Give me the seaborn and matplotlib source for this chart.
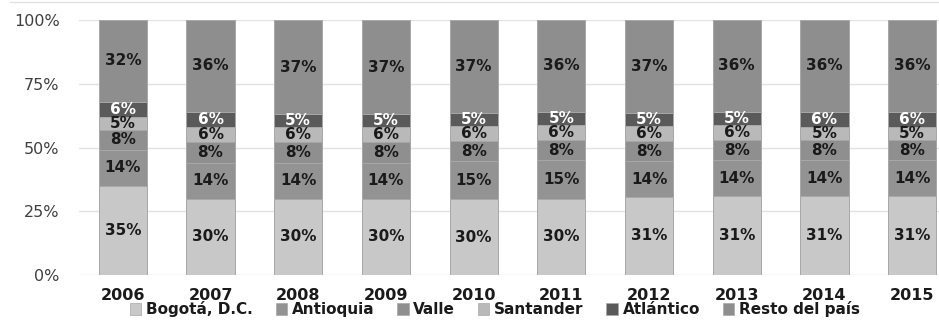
import numpy as np
import pandas as pd
import matplotlib
matplotlib.use("Agg")
import matplotlib.pyplot as plt
from matplotlib.patches import Patch
from matplotlib.lines import Line2D
import seaborn as sns

years = ["2006", "2007", "2008", "2009", "2010", "2011", "2012", "2013", "2014", "2015"]
regions = ["Bogotá, D.C.", "Antioquia", "Valle", "Santander", "Atlántico", "Resto del país"]

bogota = [35, 30, 30, 30, 30, 30, 31, 31, 31, 31]
antioquia = [14, 14, 14, 14, 15, 15, 14, 14, 14, 14]
valle = [8, 8, 8, 8, 8, 8, 8, 8, 8, 8]
santander = [5, 6, 6, 6, 6, 6, 6, 6, 5, 5]
atlantico = [6, 6, 5, 5, 5, 5, 5, 5, 6, 6]
resto = [32, 36, 37, 37, 37, 36, 37, 36, 36, 36]

series = [bogota, antioquia, valle, santander, atlantico, resto]
colors = ["#c8c8c8", "#939393", "#8f8f8f", "#b9b9b9", "#5a5a5a", "#8e8e8e"]
label_colors = ["#1a1a1a", "#1a1a1a", "#1a1a1a", "#1a1a1a", "#ffffff", "#1a1a1a"]

sns.set_theme(style="white")
plt.rcParams["font.family"] = ["DejaVu Sans"]

vals = np.array(series, dtype=float)
shares = vals / vals.sum(axis=0) * 100  # 100% stacked
tops = np.cumsum(shares, axis=0)
bottoms = tops - shares

fig = plt.figure(figsize=(9.39, 3.24), dpi=100)
ax = fig.add_axes([0.0841, 0.151, 0.934, 0.787])

# draw cumulative bars from the top layer down so each shows its own segment
for i in range(len(regions) - 1, -1, -1):
    df = pd.DataFrame({"year": years, "top": tops[i]})
    sns.barplot(data=df, x="year", y="top", color=colors[i], saturation=1,
                width=0.55, edgecolor="#a8a8a8", linewidth=0.7, ax=ax, zorder=2)

for i in range(len(regions)):
    for j in range(len(years)):
        ax.text(j, bottoms[i, j] + shares[i, j] / 2, f"{series[i][j]}%",
                ha="center", va="center", fontsize=11, fontweight="bold",
                color=label_colors[i], zorder=5)

ax.set_xlim(-0.5, 9.5)
ax.set_ylim(0, 100)
ax.set_yticks([0, 25, 50, 75, 100])
ax.set_yticklabels(["0%", "25%", "50%", "75%", "100%"])
ax.yaxis.grid(True, color="#e2e2e2", linewidth=1.0, zorder=0)
ax.set_axisbelow(True)
ax.set_xlabel("")
ax.set_ylabel("")
for s in ax.spines.values():
    s.set_visible(False)
ax.tick_params(axis="y", length=0, pad=14, labelsize=11.5, labelcolor="#404040")
ax.tick_params(axis="x", length=0, pad=9, labelsize=11.5, labelcolor="#1a1a1a")
for t in ax.get_xticklabels():
    t.set_fontweight("bold")

# outer border line at the top of the chart
fig.add_artist(Line2D([0.011, 1.0], [0.993, 0.993], color="#e2e2e2", linewidth=1.0,
                      transform=fig.transFigure))

handles = [Patch(facecolor=c, edgecolor="#a8a8a8", linewidth=0.5) for c in colors]
fig.legend(handles, regions, loc="center", bbox_to_anchor=(0.527, 0.045), ncol=6,
           frameon=False, handlelength=0.75, handleheight=0.75, handletextpad=0.3,
           columnspacing=1.5, prop={"weight": "bold", "size": 11},
           labelcolor="#1a1a1a")

fig.savefig("out.png", dpi=100)
